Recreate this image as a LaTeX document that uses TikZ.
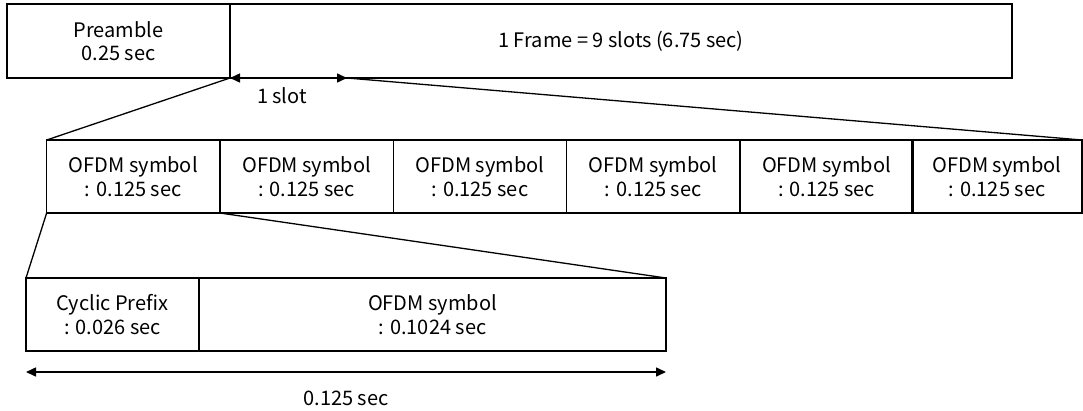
\documentclass[tikz,border=0pt]{standalone}
\usepackage{fontspec}
\setmainfont{Noto Sans CJK KR}
\usetikzlibrary{arrows.meta}
\begin{document}
\begin{tikzpicture}[x=1pt,y=-1pt,
  box/.style={draw, line width=1.3pt, rectangle, inner sep=0pt, outer sep=0pt, align=center, font=\fontsize{20}{23.5}\selectfont},
  conn/.style={line width=1.3pt},
  dim/.style={line width=1.5pt, {Triangle[length=10pt,width=9pt]}-{Triangle[length=10pt,width=9pt]}},
  lbl/.style={font=\fontsize{20}{23.5}\selectfont, inner sep=0pt}]
\useasboundingbox (0,0) rectangle (1083,410);
% top row
\node[box, minimum width=223, minimum height=74] (pre) at (118.5,41) {Preamble\\0.25 sec};
\node[box, minimum width=782, minimum height=74] (frame) at (621,41) {1 Frame = 9 slots (6.75 sec)};
\draw[line width=2.2pt] (frame.north west) -- (frame.south west);
\coordinate (slotend) at (347,78);
\draw[dim] (frame.south west) -- (slotend);
\node[lbl] (slotlbl) at (282,96) {1 slot};
% middle row
\foreach \i/\x in {1/133.3,2/306.6,3/479.9,4/653.2,5/826.5}{
  \node[box, minimum width=173.3, minimum height=73] (s\i) at (\x,176.5) {OFDM symbol\\: 0.125 sec};
}
\node[box, minimum width=170, minimum height=73] (s6) at (997,176.5) {OFDM symbol\\: 0.125 sec};
\draw[conn] (frame.south west) -- (s1.north west);
\draw[conn] (slotend) -- (s6.north east);
% bottom row
\node[box, minimum width=173, minimum height=73] (cp) at (112.5,314.5) {Cyclic Prefix\\: 0.026 sec};
\node[box, minimum width=467, minimum height=73] (sym) at (432.5,314.5) {OFDM symbol\\: 0.1024 sec};
\draw[conn] (s1.south west) -- (cp.north west);
\draw[conn] (s1.south east) -- (sym.north east);
\coordinate (dl) at (26,372);
\coordinate (dr) at (666,372);
\draw[dim] (dl) -- (dr);
\node[lbl] (durlbl) at (346,398) {0.125 sec};
\end{tikzpicture}
\end{document}
